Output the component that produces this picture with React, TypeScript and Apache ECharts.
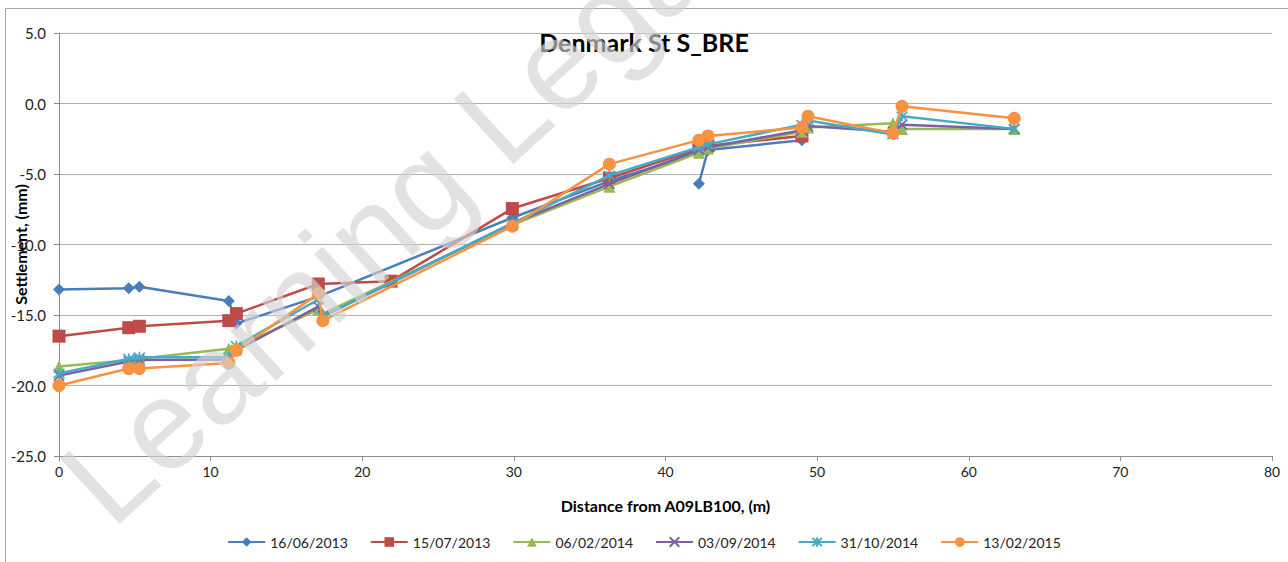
import React, { useEffect, useRef } from "react";
import * as echarts from "echarts";

// ---- data (distance in m, settlement in mm) ----
const seriesNames = ["16/06/2013", "15/07/2013", "06/02/2014", "03/09/2014", "31/10/2014", "13/02/2015"];

const dist160613 = [0, 4.6, 5.3, 11.2, 11.7, 17.1, 29.9, 36.3, 42.8, 49.0];
const settle160613 = [-13.2, -13.1, -13.0, -14.0, -15.6, -13.7, -8.1, -5.5, -3.3, -2.6];
const distSpur160613 = [42.2, 42.8];
const settleSpur160613 = [-5.7, -3.3];

const dist150713 = [0, 4.6, 5.3, 11.2, 11.7, 17.1, 21.9, 29.9, 36.3, 42.2, 42.8, 49.0];
const settle150713 = [-16.5, -15.9, -15.8, -15.4, -14.9, -12.8, -12.6, -7.45, -5.3, -3.2, -3.0, -2.3];

const distFull = [0, 4.6, 5.3, 11.2, 11.7, 17.1, 17.4, 29.9, 36.3, 42.2, 42.8, 49.0, 49.4, 55.0, 55.6, 63.0];
const settle060214 = [-18.65, -18.2, -18.1, -17.4, -17.3, -14.6, -14.9, -8.6, -5.9, -3.5, -3.2, -2.0, -1.7, -1.4, -1.8, -1.8];
const settle030914 = [-19.3, -18.3, -18.2, -18.15, -17.5, -14.4, -15.1, -8.5, -5.7, -3.3, -3.1, -1.9, -1.6, -2.0, -1.5, -1.8];
const settle311014 = [-19.15, -18.1, -18.0, -18.0, -17.2, -13.9, -15.1, -8.5, -5.1, -3.1, -2.9, -1.5, -1.2, -2.2, -0.9, -1.8];
const settle130215 = [-20.0, -18.8, -18.8, -18.4, -17.5, -13.5, -15.4, -8.7, -4.3, -2.6, -2.3, -1.7, -0.9, -2.1, -0.2, -1.05];

const yTicks = [5, 0, -5, -10, -15, -20, -25];
const xTicks = [0, 10, 20, 30, 40, 50, 60, 70, 80];

const colors = ["#4A7EBB", "#BE4B48", "#98B954", "#7D60A0", "#46AAC5", "#F69240"];

const pair = (xs: number[], ys: number[]) => xs.map((x, i) => [x, ys[i]]);

const FONT = "Lato, 'Open Sans', 'Liberation Sans', sans-serif";

const crossPath = "path://M0,0L10,10M10,0L0,10";
const starPath = "path://M0,0L10,10M10,0L0,10M5,-1L5,11";

export default function App() {
  const ref = useRef<HTMLDivElement>(null);
  useEffect(() => {
    document.body.style.margin = "0";
    if (!ref.current) return;
    const chart = echarts.init(ref.current, null, { renderer: "svg" });

    const mk = (idx: number, data: number[][], symbol: string, size: number, extra: any = {}) => ({
      name: seriesNames[idx],
      type: "line",
      data,
      symbol,
      symbolSize: size,
      showAllSymbol: true,
      lineStyle: { color: colors[idx], width: 2.5 },
      itemStyle: { color: colors[idx], ...(extra.itemStyle || {}) },
      emphasis: { disabled: true },
      z: 2 + idx,
    });

    chart.setOption({
      animation: false,
      title: {
        text: "Denmark St S_BRE",
        left: "center",
        top: 24,
        textStyle: { fontFamily: FONT, fontSize: 25, fontWeight: "bold", color: "#000" },
      },
      grid: { left: 59, right: 16, top: 33, bottom: 106, containLabel: false, outerBoundsMode: "none" },
      legend: {
        data: seriesNames,
        bottom: 8,
        left: "center",
        itemWidth: 37,
        itemHeight: 12,
        itemGap: 22,
        textStyle: { fontFamily: FONT, fontSize: 14, color: "#222" },
      },
      xAxis: {
        type: "value",
        min: xTicks[0],
        max: xTicks[xTicks.length - 1],
        interval: 10,
        name: "Distance from A09LB100, (m)",
        nameLocation: "middle",
        nameGap: 41,
        nameMoveOverlap: false,
        nameTextStyle: { fontFamily: FONT, fontSize: 16, fontWeight: "bold", color: "#000" },
        axisLine: { show: true, onZero: false, lineStyle: { color: "#8c8c8c", width: 1 } },
        axisTick: { show: true, length: 5, lineStyle: { color: "#8c8c8c" } },
        axisLabel: { fontFamily: FONT, fontSize: 14, color: "#222", margin: 8 },
        splitLine: { show: false },
      },
      yAxis: {
        type: "value",
        min: yTicks[yTicks.length - 1],
        max: yTicks[0],
        interval: 5,
        name: "Settlement, (mm)",
        nameLocation: "middle",
        nameGap: 31,
        nameMoveOverlap: false,
        nameTextStyle: { fontFamily: FONT, fontSize: 16, fontWeight: "bold", color: "#000" },
        axisLine: { show: true, lineStyle: { color: "#8c8c8c", width: 1 } },
        axisTick: { show: true, length: 5, lineStyle: { color: "#8c8c8c" } },
        axisLabel: { fontFamily: FONT, fontSize: 15, color: "#222", margin: 13, formatter: (v: number) => v.toFixed(1) },
        splitLine: { show: true, lineStyle: { color: "#b0b0b0", width: 1 } },
      },
      series: [
        mk(0, pair(dist160613, settle160613), "diamond", 12),
        mk(0, pair(distSpur160613, settleSpur160613), "diamond", 12),
        mk(1, pair(dist150713, settle150713), "rect", 13),
        mk(2, pair(distFull, settle060214), "triangle", 12),
        mk(3, pair(distFull, settle030914), crossPath, 10, { itemStyle: { borderColor: colors[3], borderWidth: 1.6 } }),
        mk(4, pair(distFull, settle311014), starPath, 11, { itemStyle: { borderColor: colors[4], borderWidth: 1.6 } }),
        mk(5, pair(distFull, settle130215), "circle", 13),
      ],
      graphic: [
        {
          type: "rect",
          shape: { x: 5.5, y: 8.5, width: 1300, height: 600 },
          style: { fill: "none", stroke: "#a6a6a6", lineWidth: 1 },
          silent: true,
          z: -1,
        },
        {
          type: "text",
          x: 125,
          y: 545,
          rotation: 0.74,
          silent: true,
          z: 100,
          style: {
            text: "Learning Legacy",
            font: "128px 'Liberation Sans', sans-serif",
            fill: "rgba(210,210,210,0.65)",
            textAlign: "left",
            textVerticalAlign: "bottom",
          },
        },
      ],
    });
    return () => chart.dispose();
  }, []);
  return <div ref={ref} style={{ width: 1288, height: 562 }} />;
}
